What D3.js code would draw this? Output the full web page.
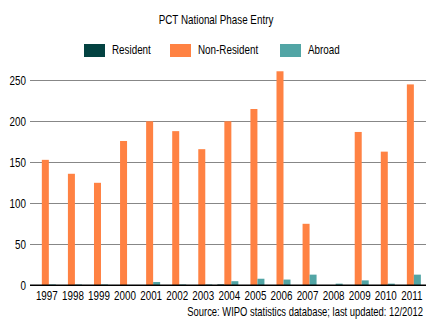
<!DOCTYPE html>
<html>
<head>
<meta charset="utf-8">
<script src="https://cdn.jsdelivr.net/npm/d3@7"></script>
<style>
  html, body { margin: 0; padding: 0; background: #fff; }
  svg { display: block; }
  text { font-family: "Liberation Sans", Arial, sans-serif; font-size: 12px; fill: #000; }
</style>
</head>
<body>
<svg id="chart" width="432" height="325"></svg>
<script>
const years = ["1997","1998","1999","2000","2001","2002","2003","2004","2005","2006","2007","2008","2009","2010","2011"];
const seriesNames = ["Resident", "Non-Resident", "Abroad"];
const resident    = [0, 0, 0, 0, 0, 0, 0, 1, 0, 0, 0, 0, 0, 0, 0];
const nonResident = [153, 136, 125, 176, 200, 188, 166, 200, 215, 261, 75, 0, 187, 163, 245];
const abroad      = [1, 1, 1, 0, 4, 1, 1, 5, 8, 7, 13, 2, 6, 2, 13];
const yTicks = [0, 50, 100, 150, 200, 250];
const colors = ["#034241", "#ff8243", "#52a5a5"];
const titleText = "PCT National Phase Entry";
const sourceText = "Source: WIPO statistics database; last updated: 12/2012";

const seriesValues = [resident, nonResident, abroad];
const svg = d3.select("#chart");

function squeeze(sel, sq = 0.82) {
  sel.each(function () {
    const t = d3.select(this);
    const x = +t.attr("x") || 0, yy = +t.attr("y") || 0;
    t.attr("x", 0).attr("y", 0).attr("transform", `translate(${x},${yy}) scale(${sq},1)`);
  });
}

const plotLeft = 30, plotRight = 426, plotTop = 80.3, plotBottom = 285.3;

const y = d3.scaleLinear().domain([0, 250]).range([plotBottom, plotTop]);
const x0 = d3.scaleBand().domain(years).range([32.3, 423.4]).paddingInner(0.1945).paddingOuter(0.1945 / 2);
const x1 = d3.scaleBand().domain(seriesNames).range([0, x0.bandwidth()]).padding(0);

// Title
svg.append("text").attr("x", 216).attr("y", 21).attr("text-anchor", "middle")
  .attr("dominant-baseline", "middle").text(titleText).call(squeeze);

// Legend
const legendX = [84, 170, 280];
const leg = svg.append("g");
seriesNames.forEach((name, i) => {
  leg.append("rect").attr("x", legendX[i]).attr("y", 44).attr("width", 21).attr("height", 13).attr("fill", colors[i]);
  leg.append("text").attr("x", legendX[i] + 28).attr("y", 50.5).attr("dominant-baseline", "middle").text(name).call(squeeze);
});

// Gridlines
svg.append("g").selectAll("line").data(yTicks.filter(t => t > 0)).join("line")
  .attr("x1", plotLeft).attr("x2", plotRight)
  .attr("y1", d => Math.round(y(d)) + 0.5).attr("y2", d => Math.round(y(d)) + 0.5)
  .attr("stroke", "#878787").attr("stroke-width", 1);

// Y axis labels
const yAxis = d3.axisLeft(y).tickValues(yTicks).tickSize(0).tickPadding(4);
const gy = svg.append("g").attr("transform", `translate(${plotLeft},0)`).call(yAxis);
gy.select(".domain").remove();
gy.selectAll("text").attr("font-family", null).attr("font-size", null).call(squeeze);

// Bars
const groups = svg.append("g").selectAll("g").data(years).join("g")
  .attr("transform", d => `translate(${x0(d)},0)`);
groups.selectAll("rect").data((d, i) => seriesNames.map((s, j) => ({ s, j, v: seriesValues[j][i] }))).join("rect")
  .attr("x", d => x1(d.s)).attr("width", x1.bandwidth())
  .attr("y", d => y(d.v)).attr("height", d => y(0) - y(d.v))
  .attr("fill", d => colors[d.j]);

// X axis
const xAxis = d3.axisBottom(x0).tickSize(0).tickPadding(6);
const gx = svg.append("g").attr("transform", `translate(0,${plotBottom})`).call(xAxis);
gx.select(".domain").remove();
gx.selectAll("text").attr("font-family", null).attr("font-size", null).attr("x", 1.5).call(squeeze);
svg.append("line").attr("x1", plotLeft).attr("x2", plotRight)
  .attr("y1", plotBottom).attr("y2", plotBottom).attr("stroke", "#000").attr("stroke-width", 1.5);

// Source
svg.append("text").attr("x", 423).attr("y", 313).attr("text-anchor", "end")
  .attr("dominant-baseline", "middle").text(sourceText).call(squeeze, 0.785);
</script>
</body>
</html>
